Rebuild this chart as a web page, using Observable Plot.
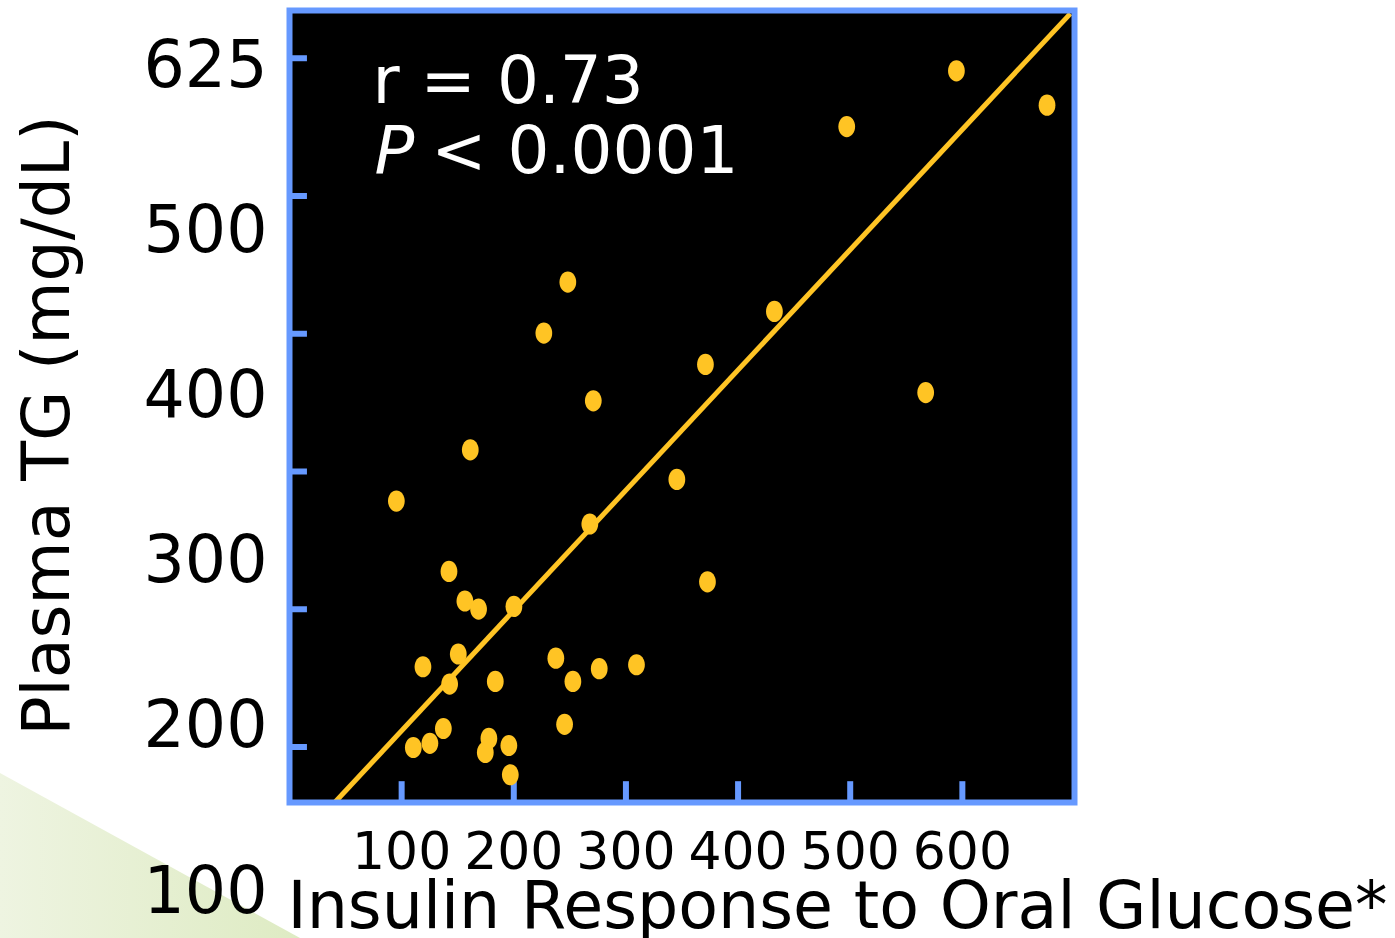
<!DOCTYPE html>
<html><head><meta charset="utf-8">
<script src="https://cdn.jsdelivr.net/npm/d3@7"></script>
<script src="https://cdn.jsdelivr.net/npm/@observablehq/plot@0.6"></script>
<style>
html,body{margin:0;padding:0;background:#fff;overflow:hidden;}
#wrap{position:relative;width:1395px;height:938px;}
#deco{position:absolute;left:0;top:0;width:1395px;height:938px;background:linear-gradient(to right,#EEF4E1 0px,#DEEBC3 300px);clip-path:polygon(0 773px,300px 938px,0 938px);}
#chart{position:absolute;left:0;top:0;}
</style></head><body>
<div id="wrap"><div id="deco"></div><div id="chart"></div></div>
<script>
// Insulin response to oral glucose (x) vs plasma TG mg/dL (y)
const insulin = [95.3,161.2,142.2,156.4,168.6,200.1,119.0,150.5,142.8,183.5,137.2,110.4,125.2,177.8,174.6,195.6,196.9,226.8,248.2,270.9,267.8,237.5,252.7,276.2,245.3,309.4,345.4,370.9,372.7,432.4,496.9,567.3,594.7,675.5];
const plasmaTG = [334.7,365.7,292.1,274.2,269.3,270.9,234.4,242.1,223.9,225.5,197.0,185.5,188.0,191.0,182.5,186.7,169.0,436.4,467.3,395.4,320.8,239.6,225.5,233.2,199.5,235.6,347.8,417.4,285.8,449.5,561.4,400.4,595.2,574.4];

// regression line end points
const fitInsulin = [40.3, 696.3];
const fitTG = [152.2, 629.8];

// axes
const xTickValues = [100, 200, 300, 400, 500, 600];
const xTickLabels = ["100", "200", "300", "400", "500", "600"];
const yLabelSlots = [100, 200, 300, 400, 500, 600];
const yTickLabels = ["100", "200", "300", "400", "500", "625"];
const yTickMarks = [185.8, 269.2, 352.6, 436.0, 519.4, 602.8];
const xDomain = [0, 700];
const yDomain = [152.2, 631.7];

const xTitle = "Insulin Response to Oral Glucose*";
const yTitle = "Plasma TG (mg/dL)";
const statR = "r = 0.73";
const statPItalic = "P";
const statPRest = " < 0.0001";

const points = insulin.map((x, i) => ({x, y: plasmaTG[i]}));
const fit = fitInsulin.map((x, i) => ({x, y: fitTG[i]}));

const YELLOW = "#FFC424";
const BLUE = "#6699FF";
const FONT = "DejaVu Sans";

const ellipse = {
  draw(context, size) {
    const r = Math.sqrt(size / Math.PI);
    const rx = r * 0.79, ry = r, k = 0.5523;
    context.moveTo(rx, 0);
    context.bezierCurveTo(rx, k * ry, k * rx, ry, 0, ry);
    context.bezierCurveTo(-k * rx, ry, -rx, k * ry, -rx, 0);
    context.bezierCurveTo(-rx, -k * ry, -k * rx, -ry, 0, -ry);
    context.bezierCurveTo(k * rx, -ry, rx, -k * ry, rx, 0);
    context.closePath();
  }
};

const rDx = 83, fs = 66;

const chart = Plot.plot({
  width: 1395,
  height: 938,
  marginLeft: 289,
  marginRight: 321,
  marginTop: 10,
  marginBottom: 136,
  style: {background: "transparent", fontFamily: FONT, color: "black", overflow: "visible"},
  x: {domain: xDomain, axis: null},
  y: {domain: yDomain, axis: null},
  marks: [
    Plot.frame({fill: "black", stroke: null}),
    Plot.ruleY(yTickMarks, {y: d => d, x1: xDomain[0], x2: 16, stroke: BLUE, strokeWidth: 6}),
    Plot.ruleX(xTickValues, {x: d => d, y1: yDomain[0], y2: 164.8, stroke: BLUE, strokeWidth: 6}),
    Plot.line(fit, {x: "x", y: "y", stroke: YELLOW, strokeWidth: 5, strokeLinecap: "butt"}),
    Plot.dot(points, {x: "x", y: "y", r: 10.6, symbol: ellipse, fill: YELLOW, stroke: null}),
    Plot.frame({stroke: BLUE, strokeWidth: 6}),
    Plot.axisX({ticks: xTickValues, tickSize: 0, tickPadding: 30, fontSize: 52, label: null,
      tickFormat: d => xTickLabels[xTickValues.indexOf(d)]}),
    Plot.text(yLabelSlots, {y: d => d, text: (d, i) => yTickLabels[i], frameAnchor: "left",
      textAnchor: "end", lineAnchor: "middle", dx: -22, dy: 3, fontSize: 65, fill: "black"}),
    Plot.text([xTitle], {text: d => d, frameAnchor: "bottom-left", textAnchor: "start",
      lineAnchor: "bottom", dx: -2, dy: 125, fontSize: 65, fill: "black"}),
    Plot.text([yTitle], {text: d => d, frameAnchor: "left", textAnchor: "middle",
      lineAnchor: "bottom", rotate: -90, dx: -221, dy: 19, fontSize: 65, fill: "black"}),
    Plot.text([statR], {text: d => d, frameAnchor: "top-left", textAnchor: "start",
      lineAnchor: "bottom", dx: rDx, dy: 92, fontSize: fs, fill: "white"}),
    Plot.text([statPItalic], {text: d => d, frameAnchor: "top-left", textAnchor: "start",
      lineAnchor: "bottom", dx: rDx + 2, dy: 162, fontSize: fs, fontStyle: "italic", fill: "white"}),
    Plot.text([statPRest], {text: d => d, frameAnchor: "top-left", textAnchor: "start",
      lineAnchor: "bottom", dx: rDx - 2 + 0.603 * fs, dy: 162, fontSize: fs, fill: "white"})
  ]
});
document.getElementById("chart").appendChild(chart);
</script>
</body></html>
